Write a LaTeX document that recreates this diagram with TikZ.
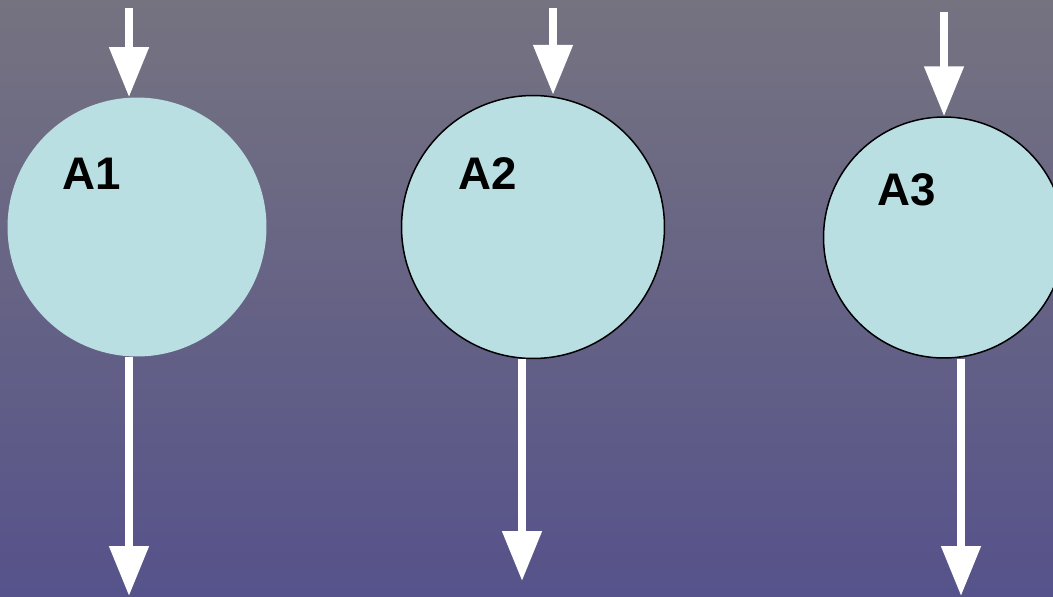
\documentclass[tikz,border=0pt]{standalone}
\usepackage{fontspec}
\setmainfont{Liberation Sans}
\usetikzlibrary{arrows.meta}
\definecolor{bgtop}{RGB}{117,115,128}
\definecolor{bgbottom}{RGB}{86,82,139}
\definecolor{cellfill}{RGB}{185,223,227}
\tikzset{
  cell/.style={
    circle,
    inner sep=0pt,
    fill=cellfill
    },
  ringed/.style={
    draw=black,
    line width=0.85pt
    },
  tag/.style={
    font=\fontsize{26}{30}\selectfont\bfseries,
    text=black,
    inner sep=0pt
    },
  flow/.style={white, line width=0.16cm,
    -{Triangle[width=0.76cm,length=1cm]}},
}
\begin{document}
\begin{tikzpicture}[
            x = 0.02cm, % one unit per pixel
            y = -0.02cm
        ]

  \shade[top color=bgtop, bottom color=bgbottom] (0,0) rectangle (1053,596);
  \useasboundingbox (0,0) rectangle (1053,596);

  \node[cell, minimum size=5.18cm] (a1) at (137,227) {};
  \node[cell, ringed, minimum size=5.26cm] (a2) at (533,227) {};
  \node[cell, ringed, minimum size=4.82cm] (a3) at (944,237.5) {};

  \node[tag] (t1) at (92,174) {A1};
  \node[tag] (t2) at (488,174) {A2};
  \node[tag] (t3) at (907,190) {A3};

  \coordinate (in1) at (129,8);
  \coordinate (in2) at (553,8);
  \coordinate (in3) at (944,12);
  \coordinate (out1) at (129,596);
  \coordinate (out2) at (522,581);
  \coordinate (out3) at (961,596);

  \draw[flow] (in1) -- (in1 |- a1.north);
  \draw[flow] (in2) -- (in2 |- a2.north);
  \draw[flow] (in3) -- (a3.north);
  \draw[flow] (out1 |- a1.south) -- (out1);
  \draw[flow] (out2 |- a2.south) -- (out2);
  \draw[flow] (out3 |- a3.south) -- (out3);
\end{tikzpicture}
\end{document}
